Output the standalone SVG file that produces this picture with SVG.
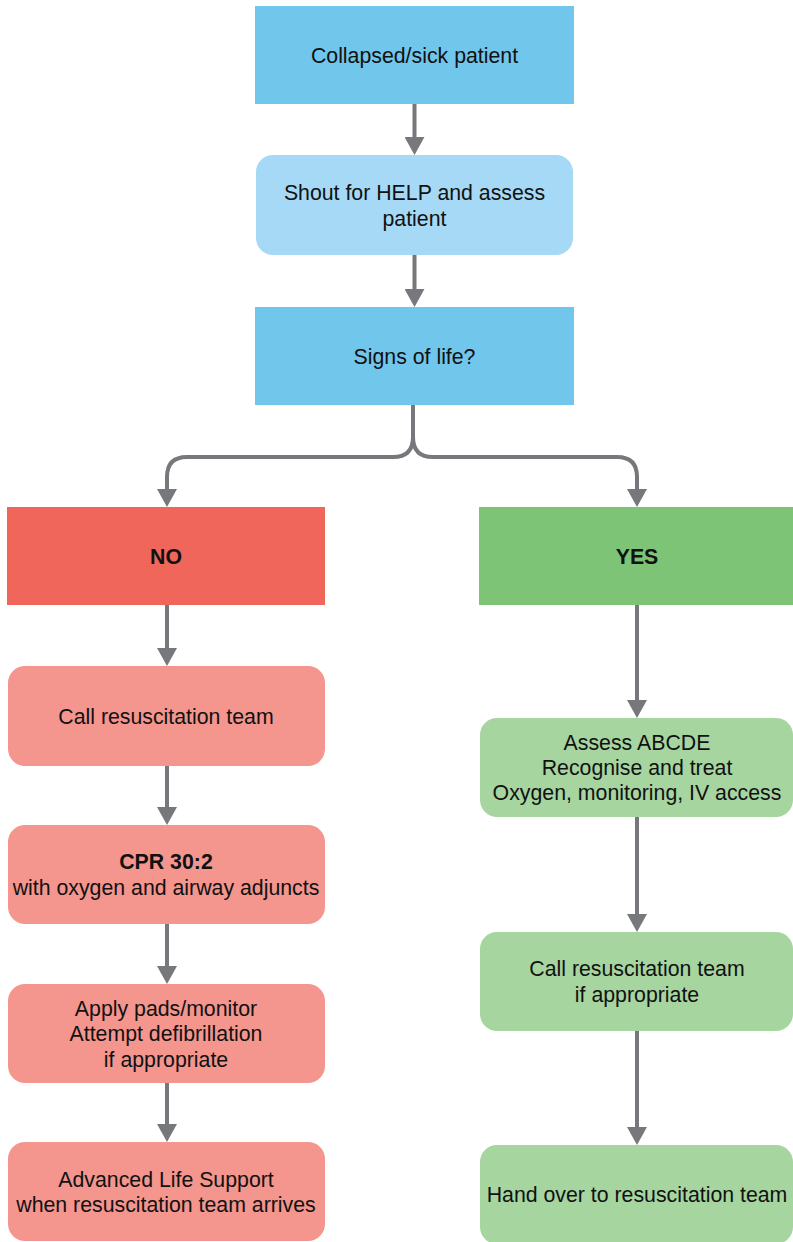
<svg xmlns="http://www.w3.org/2000/svg" width="793" height="1242" viewBox="0 0 793 1242">
<style>
text{font-family:"Liberation Sans",Arial,sans-serif;font-size:21.3px;fill:#111;text-anchor:middle}
.b{font-weight:bold}
.c{fill:none;stroke:#77787b;stroke-width:4}
.blue{fill:#71c6ec}.lblue{fill:#a5d9f5}.red{fill:#f0665a}.lred{fill:#f4958e}.green{fill:#7dc477}.lgreen{fill:#a6d5a0}
</style>
<defs>
<marker id="ah" markerUnits="userSpaceOnUse" markerWidth="18" markerHeight="20" refX="0" refY="10" orient="auto" viewBox="0 0 18 20">
<path d="M0,0 L18,10 L0,20 Z" fill="#77787b"/>
</marker>
</defs>
<rect width="793" height="1242" fill="#fff"/>
<g id="connectors">
<path class="c" marker-end="url(#ah)" d="M414.5,104 V137"/>
<path class="c" marker-end="url(#ah)" d="M414.5,255 V289"/>
<path class="c" marker-end="url(#ah)" d="M413,405 V437 Q413,457 393,457 H187 Q167,457 167,477 V489"/>
<path class="c" marker-end="url(#ah)" d="M413,405 V437 Q413,457 433,457 H617 Q637,457 637,477 V489"/>
<path class="c" marker-end="url(#ah)" d="M167,605 V648"/>
<path class="c" marker-end="url(#ah)" d="M167,766 V807"/>
<path class="c" marker-end="url(#ah)" d="M167,924 V966"/>
<path class="c" marker-end="url(#ah)" d="M167,1083 V1124"/>
<path class="c" marker-end="url(#ah)" d="M637,605 V700"/>
<path class="c" marker-end="url(#ah)" d="M637,817 V914"/>
<path class="c" marker-end="url(#ah)" d="M637,1031 V1127"/>
</g>
<g id="n1"><rect class="blue" x="255" y="6" width="319" height="98"/><text x="414.5" y="62.5">Collapsed/sick patient</text></g>
<g id="n2"><rect class="lblue" x="256" y="155" width="317" height="100" rx="17"/><text x="414.5" y="199.5">Shout for HELP and assess</text><text x="414.5" y="225.5">patient</text></g>
<g id="n3"><rect class="blue" x="255" y="307" width="319" height="98"/><text x="414.5" y="363.5">Signs of life?</text></g>
<g id="no"><rect class="red" x="7" y="507" width="318" height="98"/><text class="b" x="166" y="563.5">NO</text></g>
<g id="yes"><rect class="green" x="479" y="507" width="314" height="98"/><text class="b" x="637" y="563.5">YES</text></g>
<g id="l1"><rect class="lred" x="8" y="666" width="317" height="100" rx="17"/><text x="166" y="723.5">Call resuscitation team</text></g>
<g id="l2"><rect class="lred" x="8" y="825" width="317" height="99" rx="17"/><text class="b" x="166" y="868.5">CPR 30:2</text><text x="166" y="894.5">with oxygen and airway adjuncts</text></g>
<g id="l3"><rect class="lred" x="8" y="984" width="317" height="99" rx="17"/><text x="166" y="1015.5">Apply pads/monitor</text><text x="166" y="1040.5">Attempt defibrillation</text><text x="166" y="1066.5">if appropriate</text></g>
<g id="l4"><rect class="lred" x="8" y="1142" width="317" height="99" rx="17"/><text x="166" y="1186.5">Advanced Life Support</text><text x="166" y="1211.5">when resuscitation team arrives</text></g>
<g id="r1"><rect class="lgreen" x="480" y="718" width="313" height="99" rx="17"/><text x="637" y="749.5">Assess ABCDE</text><text x="637" y="774.5">Recognise and treat</text><text x="637" y="799.5">Oxygen, monitoring, IV access</text></g>
<g id="r2"><rect class="lgreen" x="480" y="932" width="313" height="99" rx="17"/><text x="637" y="975.5">Call resuscitation team</text><text x="637" y="1001.5">if appropriate</text></g>
<g id="r3"><rect class="lgreen" x="480" y="1145" width="313" height="99" rx="17"/><text x="637" y="1201.5">Hand over to resuscitation team</text></g>
</svg>
